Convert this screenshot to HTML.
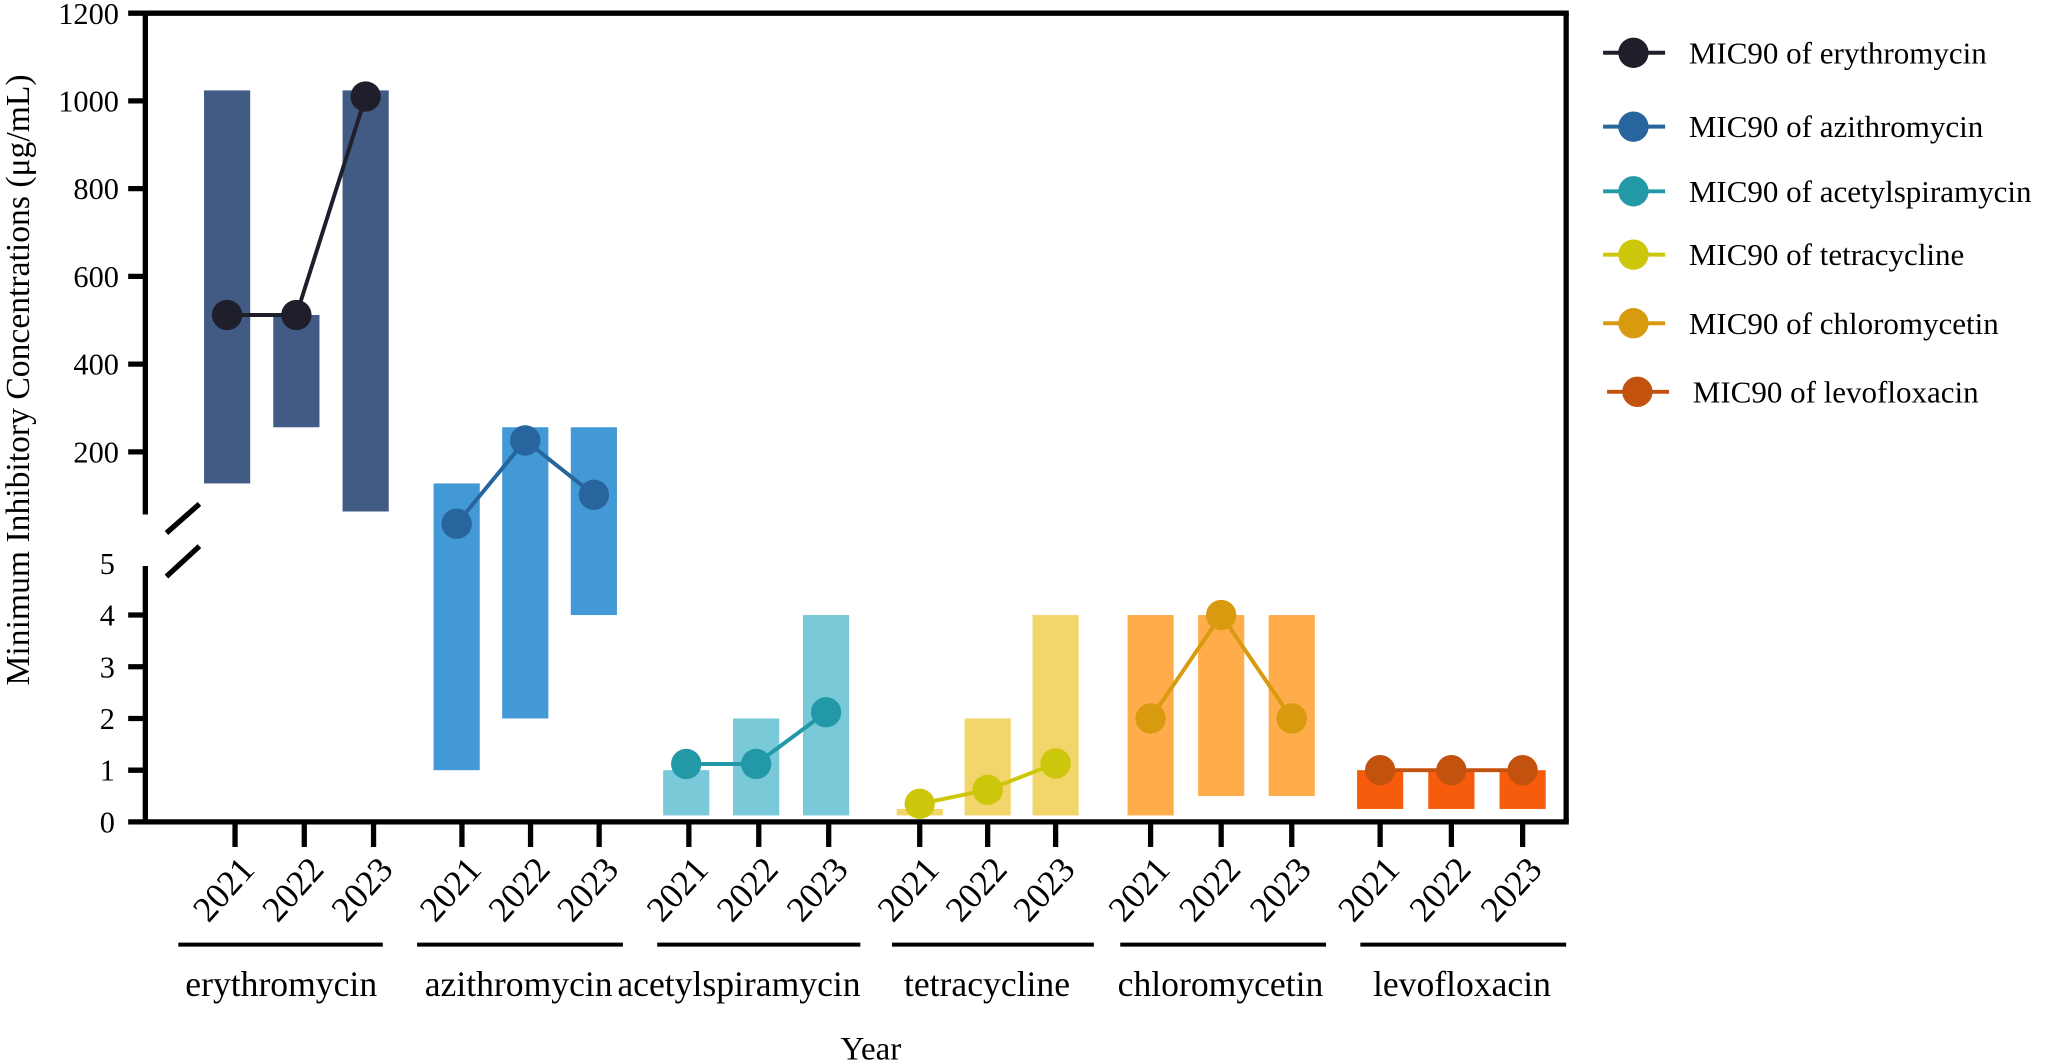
<!DOCTYPE html>
<html><head><meta charset="utf-8"><style>
html,body{margin:0;padding:0;background:#fff;}
svg{display:block;font-family:"Liberation Serif",serif;}
</style></head><body>
<svg id="chart" width="2069" height="1062" viewBox="0 0 1568 805" xmlns="http://www.w3.org/2000/svg"></svg>
<script>
const drugs = ["erythromycin","azithromycin","acetylspiramycin","tetracycline","chloromycetin","levofloxacin"];
const years = ["2021","2022","2023"];
const barLow = [[128,256,64],[1,2,4],[0.125,0.125,0.125],[0.125,0.125,0.125],[0.125,0.5,0.5],[0.25,0.25,0.25]];
const barHigh = [[1024,512,1024],[128,256,256],[1,2,4],[0.25,2,4],[4,4,4],[1,1,1]];
const mic90 = [[512,512,1010],[36,226,102],[1.12,1.12,2.12],[0.35,0.62,1.13],[2,4,2],[1,1,1]];
const upperTicks = [1200,1000,800,600,400,200];
const lowerTicks = [0,1,2,3,4,5];
const barColors = ["#425b84","#4398d6","#79c9d8","#f2d56b","#ffac4b","#f65c0c"];
const pointColors = ["#1f1f2b","#28659e","#2399a8","#ccc70a","#d89a0e","#c4520f"];
const legendLabels = ["MIC90 of erythromycin","MIC90 of azithromycin","MIC90 of acetylspiramycin","MIC90 of tetracycline","MIC90 of chloromycetin","MIC90 of levofloxacin"];

const NS="http://www.w3.org/2000/svg";
const svg=document.getElementById('chart');
function mk(tag,attrs,parent){const e=document.createElementNS(NS,tag);for(const k in attrs)e.setAttribute(k,attrs[k]);(parent||svg).appendChild(e);return e;}
const L=110,R=1187,T=10,B=623;
function y(v){ if(v<=5) return B-(B-427)*v/5; return 409-(409-10)*v/1200; }
const groupStart=[178,350,522,697,872,1046], step=[52.5,52,53,51.5,53.5,54];
const markOff=[-6,-4,-2,0,0,0];
const lineL=[43,34,24,21,23,15], lineR=[7,18,24,29,26,33];
const labelC=[213,393,560,748,925,1108];
function x(g,i){return groupStart[g]+step[g]*i;}
function xm(g,i){return x(g,i)+markOff[g];}

for(let g=0;g<drugs.length;g++){
  for(let i=0;i<years.length;i++){
    const r=mk('rect',{x:xm(g,i)-17.5,y:y(barHigh[g][i]),width:35,height:y(barLow[g][i])-y(barHigh[g][i]),fill:barColors[g]});
    
    
  }
}
for(let g=0;g<drugs.length;g++){
  const pts=years.map((_,i)=>xm(g,i)+','+y(mic90[g][i])).join(' ');
  const pl=mk('polyline',{points:pts,fill:'none',stroke:pointColors[g],'stroke-width':3});
  
  
  for(let i=0;i<years.length;i++){
    const c=mk('circle',{cx:xm(g,i),cy:y(mic90[g][i]),r:11.5,fill:pointColors[g]});
    
    
  }
}
const ax=mk('g',{stroke:'#000','stroke-width':4,fill:'none'});


mk('line',{x1:L,y1:T-2,x2:L,y2:390},ax);
mk('line',{x1:L,y1:429,x2:L,y2:B+2},ax);
mk('line',{x1:L-2,y1:T,x2:R+2,y2:T},ax);
mk('line',{x1:R,y1:T,x2:R,y2:B},ax);
mk('line',{x1:L,y1:B,x2:R+2,y2:B},ax);
mk('line',{x1:126,y1:404,x2:151,y2:382},ax);
mk('line',{x1:126,y1:437,x2:151,y2:414},ax);
upperTicks.forEach(v=>{
  const t=mk('line',{x1:L-13,y1:y(v),x2:L,y2:y(v),stroke:'#000','stroke-width':4});
  
  const tx=mk('text',{x:L-20,y:y(v)+8,'text-anchor':'end','font-size':23});
  tx.textContent=v;
  
});
lowerTicks.forEach(v=>{
  if(v<5){const t=mk('line',{x1:L-13,y1:y(v),x2:L,y2:y(v),stroke:'#000','stroke-width':4});
  }
  const tx=mk('text',{x:L-23,y:y(v)+8,'text-anchor':'end','font-size':23});
  tx.textContent=v;
  
});
for(let g=0;g<drugs.length;g++){
  for(let i=0;i<years.length;i++){
    const xx=x(g,i);
    const t=mk('line',{x1:xx,y1:B,x2:xx,y2:642,stroke:'#000','stroke-width':4});
    
    const tx=mk('text',{x:xx+16,y:660,'text-anchor':'end','font-size':27,transform:'rotate(-48 '+(xx+16)+' 660)'});
    tx.textContent=years[i];
    
  }
  const gl=mk('line',{x1:x(g,0)-lineL[g],y1:716,x2:x(g,2)+lineR[g],y2:716,stroke:'#000','stroke-width':3});
  
  const gt=mk('text',{x:labelC[g],y:755,'text-anchor':'middle','font-size':27});
  gt.textContent=drugs[g];
  
}
const xt=mk('text',{x:660,y:803,'text-anchor':'middle','font-size':25});
xt.textContent='Year';

const yt=mk('text',{x:22,y:288,'text-anchor':'middle','font-size':25.5,transform:'rotate(-90 22 288)'});
yt.textContent='Minimum Inhibitory Concentrations (μg/mL)';

const legY=[40,96,145,193,245,297];
legendLabels.forEach((lab,k)=>{
  const g=mk('g',{});
  
  
  const off=k===5?3:0;
  mk('line',{x1:1215+off,y1:legY[k],x2:1262+off,y2:legY[k],stroke:pointColors[k],'stroke-width':3},g);
  mk('circle',{cx:1238+off,cy:legY[k],r:11.5,fill:pointColors[k]},g);
  const t=mk('text',{x:1280+off,y:legY[k]+8,'font-size':23.5},g);
  t.textContent=lab;
});
</script>
</body></html>
